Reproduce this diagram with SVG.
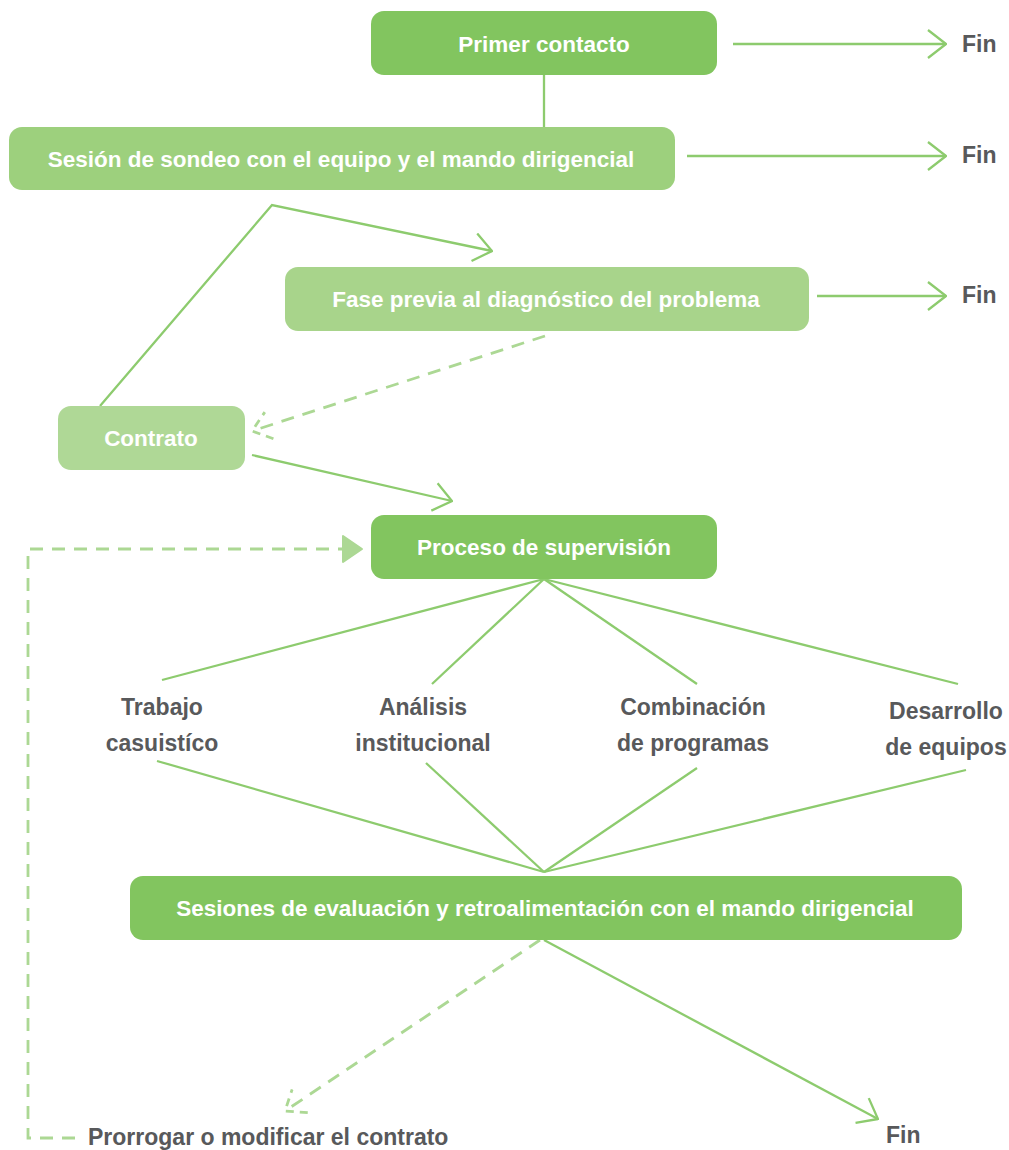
<svg xmlns="http://www.w3.org/2000/svg" width="1009" height="1150" viewBox="0 0 1009 1150">
<style>
.box{stroke:none}
.bt{font-family:"Liberation Sans",Arial,sans-serif;font-weight:bold;font-size:22.5px;fill:#fff;text-anchor:middle}
.lt{font-family:"Liberation Sans",Arial,sans-serif;font-weight:bold;font-size:23px;fill:#58595b;text-anchor:middle}
.st{text-anchor:start}
.ln{fill:none;stroke:#8dcb6e;stroke-width:2.3}
.dl{fill:none;stroke:#acd894;stroke-width:2.8;stroke-dasharray:13 9}
</style>
<defs>
<marker id="ah" viewBox="0 0 20 30" refX="19" refY="15" markerWidth="20" markerHeight="30" markerUnits="userSpaceOnUse" orient="auto">
<path d="M1,1 L19,15 L1,29" fill="none" stroke="#8dcb6e" stroke-width="2.3"/>
</marker>
<marker id="ahd" viewBox="0 0 20 30" refX="19" refY="15" markerWidth="20" markerHeight="30" markerUnits="userSpaceOnUse" orient="auto">
<path d="M1,1 L19,15 L1,29" fill="none" stroke="#acd894" stroke-width="2.8" stroke-dasharray="8 6"/>
</marker>
</defs>
<g id="connectors">
<line class="ln" x1="544" y1="75" x2="544" y2="127"/>
<line class="ln" x1="733" y1="44" x2="946" y2="44" marker-end="url(#ah)"/>
<line class="ln" x1="687" y1="156" x2="946" y2="156" marker-end="url(#ah)"/>
<line class="ln" x1="817" y1="296" x2="946" y2="296" marker-end="url(#ah)"/>
<polyline class="ln" points="100,406 272,205 492,251" marker-end="url(#ah)"/>
<line class="dl" x1="545" y1="336" x2="252" y2="431" marker-end="url(#ahd)"/>
<line class="ln" x1="252" y1="455" x2="452" y2="501" marker-end="url(#ah)"/>
<polyline class="dl" points="75,1138 28,1138 28,549 343,549"/>
<path d="M343,536 L362,549 L343,562 Z" fill="#acd894" stroke="#acd894" stroke-width="2" stroke-linejoin="round"/>
<line class="ln" x1="544" y1="579" x2="162" y2="680"/>
<line class="ln" x1="544" y1="579" x2="432" y2="684"/>
<line class="ln" x1="544" y1="579" x2="697" y2="684"/>
<line class="ln" x1="544" y1="579" x2="958" y2="684"/>
<line class="ln" x1="157" y1="761" x2="544" y2="872"/>
<line class="ln" x1="426" y1="763" x2="544" y2="872"/>
<line class="ln" x1="697" y1="768" x2="544" y2="872"/>
<line class="ln" x1="966" y1="770" x2="544" y2="872"/>
<line class="ln" x1="544" y1="940" x2="878" y2="1119" marker-end="url(#ah)"/>
<line class="dl" x1="540" y1="940" x2="285" y2="1111" marker-end="url(#ahd)"/>
</g>
<g id="n1"><rect class="box" x="371" y="11" width="346" height="64" rx="13" fill="#82c55f"/><text class="bt" x="544" y="52">Primer contacto</text></g>
<g id="n2"><rect class="box" x="9" y="127" width="666" height="63" rx="13" fill="#9dd07d"/><text class="bt" x="341" y="167">Sesión de sondeo con el equipo y el mando dirigencial</text></g>
<g id="n3"><rect class="box" x="285" y="267" width="524" height="64" rx="13" fill="#a8d48b"/><text class="bt" x="546" y="307">Fase previa al diagnóstico del problema</text></g>
<g id="n4"><rect class="box" x="58" y="406" width="187" height="64" rx="13" fill="#afd896"/><text class="bt" x="151" y="446">Contrato</text></g>
<g id="n5"><rect class="box" x="371" y="515" width="346" height="64" rx="13" fill="#82c55f"/><text class="bt" x="544" y="555">Proceso de supervisión</text></g>
<g id="n6"><rect class="box" x="130" y="876" width="832" height="64" rx="13" fill="#82c55f"/><text class="bt" x="545" y="916">Sesiones de evaluación y retroalimentación con el mando dirigencial</text></g>
<g id="f1"><text class="lt st" x="962" y="52">Fin</text></g>
<g id="f2"><text class="lt st" x="962" y="163">Fin</text></g>
<g id="f3"><text class="lt st" x="962" y="303">Fin</text></g>
<g id="t1"><text class="lt" x="162" y="715">Trabajo</text><text class="lt" x="162" y="751">casuistíco</text></g>
<g id="t2"><text class="lt" x="423" y="715">Análisis</text><text class="lt" x="423" y="751">institucional</text></g>
<g id="t3"><text class="lt" x="693" y="715">Combinación</text><text class="lt" x="693" y="751">de programas</text></g>
<g id="t4"><text class="lt" x="946" y="719">Desarrollo</text><text class="lt" x="946" y="755">de equipos</text></g>
<g id="p"><text class="lt st" x="88" y="1145">Prorrogar o modificar el contrato</text></g>
<g id="f4"><text class="lt st" x="886" y="1143">Fin</text></g>
</svg>
